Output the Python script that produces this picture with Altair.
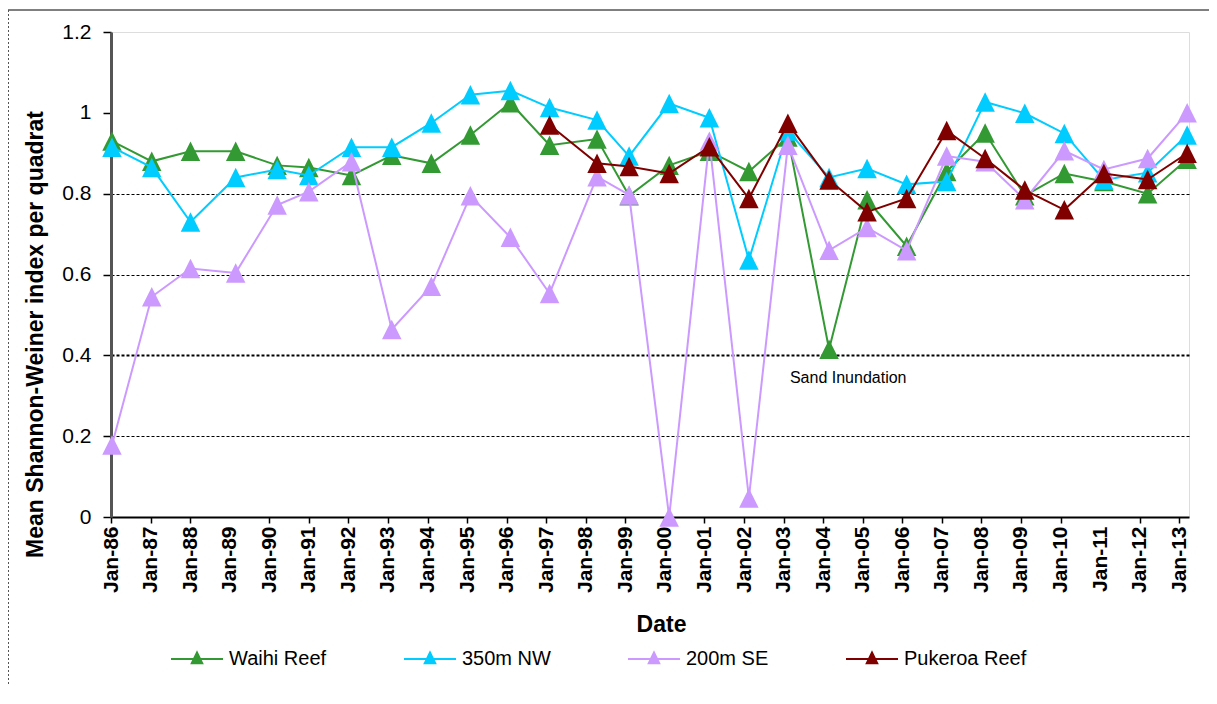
import altair as alt
import pandas as pd

# ---- data ----
dates = ["1986-01-10", "1987-01-12", "1988-01-05", "1989-02-25", "1990-03-15",
         "1991-01-01", "1992-01-30", "1993-02-05", "1994-02-05", "1995-02-01",
         "1996-02-05", "1997-02-01", "1998-04-15", "1999-02-05", "2000-02-10",
         "2001-02-15", "2002-02-15", "2003-02-10", "2004-02-25", "2005-02-10",
         "2006-02-10", "2007-02-15", "2008-02-05", "2009-02-05", "2010-02-05",
         "2011-02-05", "2012-03-15", "2013-03-15"]

waihi_reef = [0.93, 0.88, 0.905, 0.905, 0.87, 0.865, 0.845, 0.895, 0.875, 0.945,
              1.025, 0.92, 0.935, 0.795, 0.87, 0.905, 0.855, 0.94, 0.415, 0.785,
              0.67, 0.855, 0.95, 0.795, 0.85, 0.83, 0.80, 0.885]
nw_350m = [0.915, 0.865, 0.73, 0.84, 0.86, 0.845, 0.915, 0.915, 0.975, 1.045,
           1.055, 1.013, 0.982, 0.893, 1.023, 0.988, 0.636, 0.955, 0.84, 0.862,
           0.823, 0.83, 1.027, 0.999, 0.949, 0.834, 0.852, 0.945]
se_200m = [0.178, 0.545, 0.615, 0.604, 0.772, 0.805, 0.879, 0.464, 0.571, 0.795,
           0.692, 0.553, 0.842, 0.797, 0.0, 0.93, 0.047, 0.92, 0.66, 0.716,
           0.659, 0.893, 0.879, 0.785, 0.906, 0.86, 0.887, 1.0]
pukeroa_reef = [None] * 11 + [0.97, 0.875, 0.867, 0.85, 0.916, 0.788, 0.974, 0.834,
                              0.755, 0.788, 0.956, 0.887, 0.809, 0.76, 0.85, 0.835, 0.9]

series_names = ["Waihi Reef", "350m NW", "200m SE", "Pukeroa Reef"]
series_colors = ["#339933", "#00CCFF", "#CC99FF", "#800000"]
series_values = [waihi_reef, nw_350m, se_200m, pukeroa_reef]

tick_years = list(range(1986, 2014))
y_ticks = [0, 0.2, 0.4, 0.6, 0.8, 1.0, 1.2]

annotation_text = ["Sand Inundation"]
annotation_date = ["2003-03-01"]
annotation_value = [0.344]

FONT = "Liberation Sans"

rows = []
for name, vals in zip(series_names, series_values):
    for d, v in zip(dates, vals):
        if v is not None:
            rows.append({"Date": d, "Site": name, "Value": v})
df = pd.DataFrame(rows)

x_enc = alt.X(
    "Date:T",
    scale=alt.Scale(type="utc", domain=[alt.DateTime(year=1986, month=1, date=1, utc=True),
                                        alt.DateTime(year=2013, month=4, date=1, utc=True)],
                    nice=False),
    axis=alt.Axis(
        values=[alt.DateTime(year=y, month=1, date=1, utc=True) for y in tick_years],
        labelExpr="utcFormat(datum.value, '%b-%y')",
        labelAngle=-90, labelFont=FONT, labelFontSize=21, labelFontWeight="bold",
        labelColor="black", labelPadding=3, labelOverlap=False, labelFlush=False,
        tickColor="black", tickSize=6, tickWidth=1.5,
        tickOpacity={"condition": {"test": "utcyear(datum.value) == 1989 || utcyear(datum.value) == 2011",
                                   "value": 0}, "value": 1},
        domainColor="black", domainWidth=2, grid=False,
        title="Date", titleFont=FONT, titleFontSize=23, titleFontWeight="bold",
        titleColor="black", titleX=550, titleY=96,
    ),
)

y_enc = alt.Y(
    "Value:Q",
    scale=alt.Scale(domain=[0, 1.2], nice=False, zero=True),
    axis=alt.Axis(
        values=y_ticks, format="~g",
        labelFont=FONT, labelFontSize=21, labelColor="black", labelPadding=12,
        tickColor="black", tickSize=8, tickWidth=1.5,
        domainColor="#555555", domainWidth=3,
        grid=True, gridColor="black", gridDash=[3, 2],
        gridWidth={"condition": {"test": "abs(datum.value - 0.4) < 0.001", "value": 2}, "value": 1},
        gridOpacity={"condition": {"test": "datum.value > 0.99 || datum.value < 0.01", "value": 0},
                     "value": 1},
        title="Mean Shannon-Weiner index per quadrat", titleFont=FONT, titleFontSize=23,
        titleFontWeight="bold", titleColor="black", titleX=-64, titleY=302,
    ),
)

color_enc = alt.Color(
    "Site:N",
    scale=alt.Scale(domain=series_names, range=series_colors),
    sort=series_names,
    legend=alt.Legend(
        title=None, orient="none", legendX=59, legendY=600, direction="horizontal",
        columns=4, columnPadding=73,
        symbolType="M-1,0L1,0M-0.2,0.16L0,-0.25L0.2,0.16Z",
        symbolSize=2704, symbolStrokeWidth=2,
        labelFont=FONT, labelFontSize=20, labelColor="black", labelOffset=5,
    ),
)

layers = []
for name in series_names:
    sub = df[df["Site"] == name]
    line = alt.Chart(sub).mark_line(strokeWidth=2).encode(x=x_enc, y=y_enc, color=color_enc)
    pts = alt.Chart(sub).mark_point(shape="M0,-1L1,1L-1,1Z", filled=True, size=380, opacity=1).encode(
        x=x_enc, y=y_enc, color=color_enc)
    layers += [line, pts]

ann_df = pd.DataFrame({"Date": annotation_date, "Value": annotation_value, "Text": annotation_text})
ann = alt.Chart(ann_df).mark_text(align="left", baseline="middle", font=FONT, fontSize=16,
                                  color="black").encode(x=x_enc, y=y_enc, text="Text:N")

one = pd.DataFrame({"a": [0]})
top_frame = alt.Chart(one).mark_rule(color="black", strokeWidth=1).encode(
    x=alt.value(-103), x2=alt.value(1098), y=alt.value(-22))
left_frame = alt.Chart(one).mark_rule(color="#555555", strokeWidth=1, strokeDash=[2, 2]).encode(
    x=alt.value(-102.5), y=alt.value(-22), y2=alt.value(654))

chart = alt.layer(top_frame, left_frame, *layers, ann).properties(
    width=1078, height=485,
    autosize=alt.AutoSizeParams(type="none"),
    padding={"left": 103, "top": 24, "right": 20, "bottom": 170},
).configure_view(stroke="#808080", strokeWidth=2.5).configure(font=FONT)

chart.save("out.html", embed_options={"renderer": "svg", "actions": False})
